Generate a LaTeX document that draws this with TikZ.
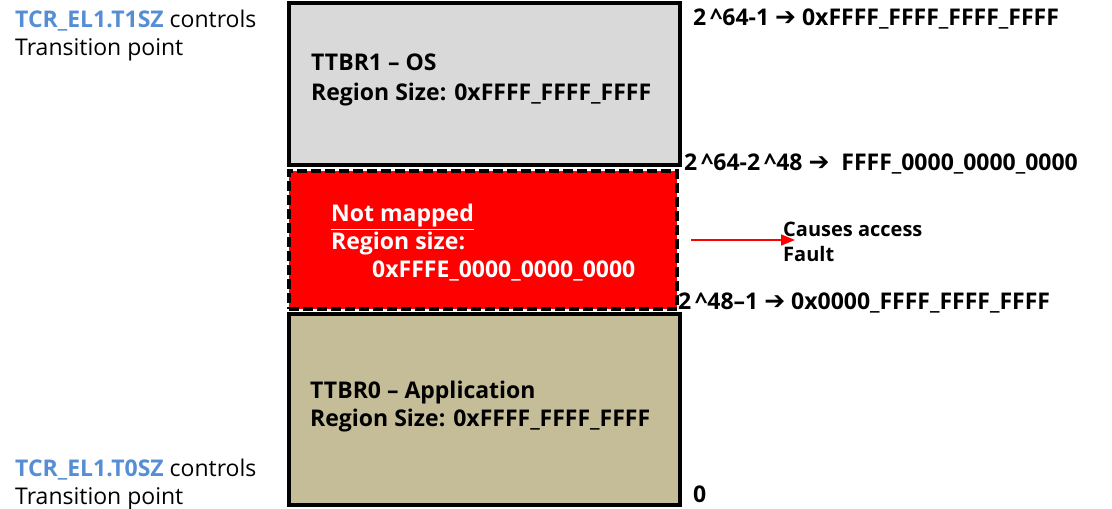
\documentclass[tikz,border=0pt]{standalone}
\usepackage{fontspec}
\setmainfont{Open Sans}
\newfontfamily\arrowfont{DejaVu Sans}
\usetikzlibrary{arrows.meta}
\definecolor{osgray}{RGB}{217,217,217}
\definecolor{appbeige}{RGB}{196,189,151}
\definecolor{tcrblue}{RGB}{85,142,213}
\newcommand{\pto}{{\arrowfont\bfseries\fontsize{25}{28}\selectfont ➔}}

\begin{document}
\begin{tikzpicture}[x=1pt, y=-1pt,
  region/.style={draw, line width=4pt, outer sep=0pt, inner sep=0pt, anchor=north west},
  txt/.style={anchor=west, inner sep=0pt, align=left, font=\fontsize{23}{28}\selectfont},
  boldtxt/.style={txt, font=\fontsize{23}{28}\selectfont\bfseries}]

  \useasboundingbox (0,0) rectangle (1112,509);

  \node[region, fill=osgray, minimum width=391pt, minimum height=162pt] (ttbr1) at (289,3) {};
  \node[region, fill=appbeige, minimum width=391pt, minimum height=191pt] (ttbr0) at (289,314) {};
  \node[region, fill=red, dash pattern=on 10pt off 4pt, line width=4.5pt, minimum width=388pt, minimum height=138pt] (hole) at (289,171) {};

  \node[boldtxt, font=\fontsize{23}{30}\selectfont\bfseries] (ostext) at (311,80) {TTBR1 – OS\\Region Size: 0xFFFF\_FFFF\_FFFF};
  \node[boldtxt, text=white] (holetext) at (331,243) {\underline{Not mapped}\\Region size:\\\hspace*{41pt}0xFFFE\_0000\_0000\_0000};
  \node[boldtxt] (apptext) at (310,407) {TTBR0 – Application\\Region Size: 0xFFFF\_FFFF\_FFFF};

  \node[txt] (t1sz) at (15,36) {\textbf{\color{tcrblue}TCR\_EL1.T1SZ} controls\\Transition point};
  \node[txt] (t0sz) at (15,485) {\textbf{\color{tcrblue}TCR\_EL1.T0SZ} controls\\Transition point};

  \node[boldtxt] (addrtop) at (693,19) {2\,\textasciicircum64-1 \pto{} 0xFFFF\_FFFF\_FFFF\_FFFF};
  \node[boldtxt] (addrupper) at (684,164) {2\,\textasciicircum64-2\,\textasciicircum48 \pto{}\ \ FFFF\_0000\_0000\_0000};
  \node[boldtxt] (addrlower) at (678,303) {2\,\textasciicircum48–1 \pto{} 0x0000\_FFFF\_FFFF\_FFFF};
  \node[boldtxt] (addrzero) at (693,494) {0};

  \node[txt, font=\fontsize{20}{25}\selectfont\bfseries] (fault) at (783,242) {Causes access\\Fault};
  \coordinate (faultstart) at (691,240);
  \draw[red, line width=1.5pt, -{Triangle[length=14pt,width=11pt]}, shorten >=-12pt] (faultstart) -- (fault.west |- faultstart);

\end{tikzpicture}
\end{document}
